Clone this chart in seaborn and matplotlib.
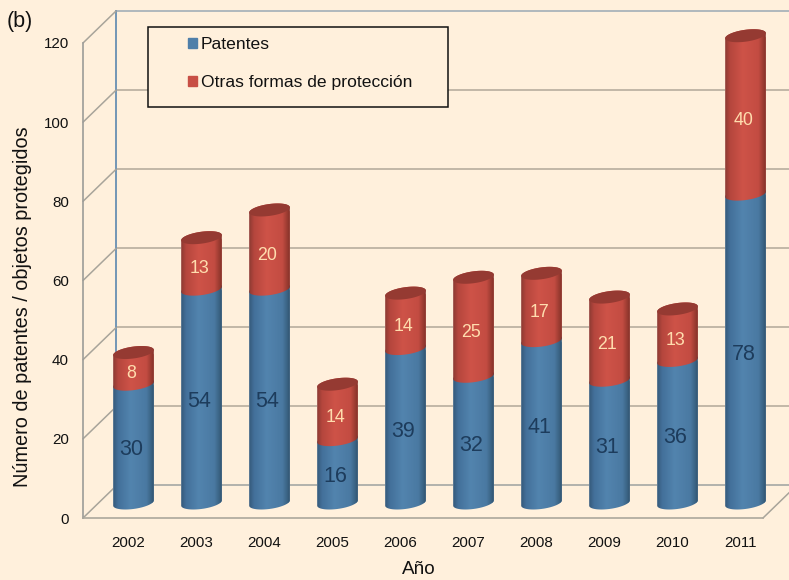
import numpy as np
import pandas as pd
import matplotlib
matplotlib.use("Agg")
import matplotlib.pyplot as plt
from matplotlib.colors import LinearSegmentedColormap
from matplotlib.patches import Patch, Polygon, Rectangle
import seaborn as sns

# Datos
anios = ["2002", "2003", "2004", "2005", "2006", "2007", "2008", "2009", "2010", "2011"]
patentes = [30, 54, 54, 16, 39, 32, 41, 31, 36, 78]
otras = [8, 13, 20, 14, 14, 25, 17, 21, 13, 40]
ticks_y = [0, 20, 40, 60, 80, 100, 120]

fondo = "#FFF0DC"
azul = "#4F7FA9"
rojo = "#C84F45"
gris_linea = "#BDB3A3"

sns.set_theme(style="white")
plt.rcParams["font.family"] = ["Liberation Sans", "DejaVu Sans"]

W, H = 789, 580
fig = plt.figure(figsize=(W / 100, H / 100), dpi=100, facecolor=fondo)


def caja(x0, y_top, x1, y_bottom):
    # ejes a partir de pixeles de la imagen
    return fig.add_axes([x0 / W, 1 - y_bottom / H, (x1 - x0) / W, (y_bottom - y_top) / H])


df = pd.DataFrame({"anio": anios, "patentes": patentes, "otras": otras})
df["total"] = df["patentes"] + df["otras"]

# pared del fondo
fondo_ax = caja(116, 10.8, 796, 485)
fondo_ax.set_ylim(0, 120)
fondo_ax.set_xlim(0, 1)
fondo_ax.patch.set_alpha(0)
sns.despine(ax=fondo_ax, right=True, top=True, bottom=True)
fondo_ax.spines["left"].set_color("#7396B5")
fondo_ax.spines["left"].set_linewidth(1.4)
fondo_ax.set_xticks([])
fondo_ax.set_yticks([])
for v in ticks_y:
    color = "#A9B4BA" if v == 120 else "#ABADA8" if v == 0 else gris_linea
    fondo_ax.axhline(v, color=color, lw=1.3, clip_on=False)

# plano frontal, con las etiquetas
ax = caja(83, 43, 763, 518)
ax.patch.set_alpha(0)
ax.set_ylim(0, 120)
ax.set_xlim(-45.5 / 68, 10 - 45.5 / 68)
ax.set_xticks(range(len(anios)))
ax.set_xticklabels(anios, fontsize=10.9, color="#111111")
ax.set_yticks(ticks_y)
ax.set_yticklabels(ticks_y, fontsize=10.9, color="#111111")
ax.tick_params(axis="x", length=0, pad=13)
ax.tick_params(axis="y", length=0, pad=10)
sns.despine(ax=ax, right=True, top=True)
ax.spines["left"].set_color("#9C9C98")
ax.spines["bottom"].set_color("#ABA79C")
ax.spines["left"].set_linewidth(1.2)
ax.spines["bottom"].set_linewidth(1.2)
xmin, xmax = ax.get_xlim()
for v in ticks_y:
    ax.plot([xmin, xmin + 33 / 68], [v, v + 32 / 3.96], color="#A8A49A", lw=1.1, clip_on=False)
ax.plot([xmax, xmax + 33 / 68], [0, 32 / 3.96], color="#A8A49A", lw=1.1, clip_on=False)

fig.text(7 / W, 1 - 27 / H, "(b)", fontsize=15.5, color="#111111")
fig.text(23 / W, 1 - 307 / H, "Número de patentes / objetos protegidos", fontsize=14.3,
         rotation=90, ha="center", va="center", color="#111111")
fig.text(419 / W, 1 - 569 / H, "Año", fontsize=13.6, ha="center", va="center", color="#111111")

# cilindros
bars = caja(99.5, 27.8, 779.5, 503 + 5 * 475.2 / 120)
bars.patch.set_alpha(0)
sns.barplot(data=df, x="anio", y="patentes", ax=bars, color=azul, width=41 / 68,
            saturation=1, errorbar=None, zorder=2)
sns.barplot(data=df, x="anio", y="total", ax=bars, color=rojo, width=41 / 68,
            saturation=1, errorbar=None, zorder=3)
bars.set_xlim(-0.5, 9.5)
bars.set_ylim(-5, 120)
bars.axis("off")

sx, sy = 68, 475.2 / 120
a, b, ang = 20.5, 5.9, np.radians(8)


def elipse(cx, val, t):
    # puntos de la elipse inclinada en coordenadas de datos
    dx = a * np.cos(t) * np.cos(ang) - b * np.sin(t) * np.sin(ang)
    dy = a * np.cos(t) * np.sin(ang) + b * np.sin(t) * np.cos(ang)
    return np.column_stack([cx + dx / sx, val + dy / sy])


def cuerpo(cx, v0, v1):
    abajo = elipse(cx, v0, np.linspace(np.pi, 2 * np.pi, 40))
    arriba = elipse(cx, v1, np.linspace(0, np.pi, 40))
    return np.vstack([abajo, arriba])


cmap_azul = LinearSegmentedColormap.from_list(
    "a", [(0, "#35597A"), (0.12, "#43709A"), (0.42, "#5284AE"), (0.8, "#4A79A2"), (0.93, "#38607F"), (1, "#2C4A66")])
cmap_rojo = LinearSegmentedColormap.from_list(
    "r", [(0, "#8C3A32"), (0.12, "#B5463D"), (0.42, "#CE5348"), (0.8, "#C34C42"), (0.93, "#95392F"), (1, "#7C2F28")])
degradado = np.linspace(0, 1, 128).reshape(1, -1)

for cont, cmap, z in [(bars.containers[0], cmap_azul, 4), (bars.containers[1], cmap_rojo, 5)]:
    for i, p in enumerate(cont.patches):
        cx = p.get_x() + p.get_width() / 2
        v0 = patentes[i] if z == 5 else 0
        v1 = p.get_height()
        forma = Polygon(cuerpo(cx, v0, v1), closed=True, transform=bars.transData)
        p.set_clip_path(forma)
        img = bars.imshow(degradado, cmap=cmap, aspect="auto", zorder=z, interpolation="bilinear",
                          extent=[cx - 21 / sx, cx + 21 / sx, v0 - 10 / sy, v1 + 10 / sy])
        img.set_clip_path(forma)
bars.set_xlim(-0.5, 9.5)
bars.set_ylim(-5, 120)

for i, total in enumerate(df["total"]):
    tapa = elipse(i, total, np.linspace(0, 2 * np.pi, 80))
    bars.add_patch(Polygon(tapa, closed=True, facecolor="#953A32", edgecolor="none", zorder=6, clip_on=False))
    bars.annotate(str(patentes[i]), (i, patentes[i] / 2), xytext=(-1.5, -4), textcoords="offset points",
                  ha="center", va="center", fontsize=15.5, color="#1D3C5C", zorder=7)
    bars.annotate(str(otras[i]), (i, patentes[i] + otras[i] / 2), xytext=(-1.5, -4), textcoords="offset points",
                  ha="center", va="center", fontsize=12.8, color="#FFDDAE", zorder=7)

# leyenda
marco = Rectangle((147.5 / W, 1 - 107 / H), 300.5 / W, 80 / H, transform=fig.transFigure,
                  facecolor=fondo, edgecolor="#111111", lw=1.1, zorder=8, clip_on=False)
bars.add_patch(marco)
leg = bars.legend(handles=[Patch(color=azul, label="Patentes"), Patch(color=rojo, label="Otras formas de protección")],
                  loc="upper left", bbox_to_anchor=(188 / W, 1 - 37 / H), bbox_transform=fig.transFigure,
                  frameon=False, fontsize=12.6, handlelength=0.52, handleheight=0.52, handletextpad=0.22,
                  labelspacing=1.32, borderpad=0, borderaxespad=0, labelcolor="#111111")
leg.set_zorder(9)

plt.savefig("out.png", dpi=100, facecolor=fondo)
